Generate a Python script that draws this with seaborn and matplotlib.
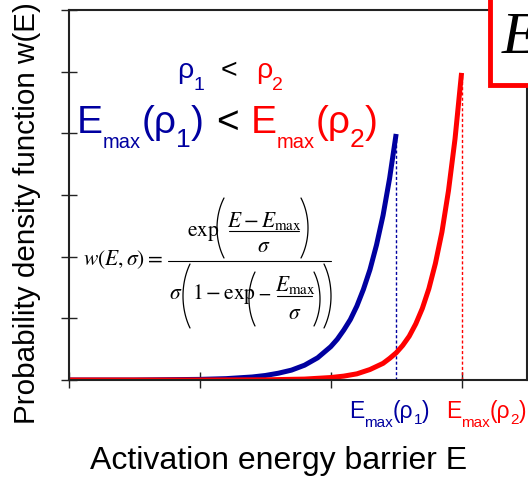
import matplotlib
matplotlib.use("Agg")
import matplotlib.pyplot as plt
from matplotlib.patches import Rectangle
from matplotlib.lines import Line2D
import seaborn as sns
import pandas as pd
import numpy as np

# ---- data ----
E_rho1 = [0.0, 0.5, 1.0, 1.2, 1.4, 1.5, 1.6, 1.7, 1.8, 1.9, 2.0, 2.05, 2.1, 2.15, 2.2,
          2.25, 2.3, 2.35, 2.4, 2.45, 2.5]
w_rho1 = [0.0, 0.0, 0.01, 0.022, 0.049, 0.073, 0.11, 0.16, 0.24, 0.36, 0.54, 0.66, 0.81,
          0.98, 1.20, 1.47, 1.79, 2.19, 2.67, 3.27, 3.99]
E_rho2 = [0.0, 0.5, 1.0, 1.5, 1.8, 2.0, 2.1, 2.2, 2.3, 2.4, 2.45, 2.5, 2.55, 2.6, 2.65,
          2.7, 2.75, 2.8, 2.85, 2.9, 2.95, 3.0]
w_rho2 = [0.0, 0.0, 0.0, 0.003, 0.015, 0.04, 0.063, 0.10, 0.17, 0.27, 0.35, 0.44, 0.56,
          0.71, 0.91, 1.16, 1.48, 1.89, 2.40, 3.07, 3.91, 4.98]
series_names = ["rho1", "rho2"]
E_max = [2.5, 3.0]
x_ticks = [0, 1, 2, 3]
y_ticks = [0, 1, 2, 3, 4, 5, 6]

BLUE = "#0000A0"
RED = "#FF0000"

df = pd.concat([
    pd.DataFrame({"E": E_rho1, "w": w_rho1, "series": series_names[0]}),
    pd.DataFrame({"E": E_rho2, "w": w_rho2, "series": series_names[1]}),
], ignore_index=True)

sns.set_style("white")
plt.rcParams["font.family"] = ["Liberation Sans", "DejaVu Sans"]
plt.rcParams["text.color"] = "black"
plt.rcParams["mathtext.fontset"] = "custom"
plt.rcParams["mathtext.rm"] = "Liberation Sans"
plt.rcParams["mathtext.it"] = "Liberation Sans:italic"
plt.rcParams["mathtext.bf"] = "Liberation Sans:bold"

W, H = 528, 483
fig = plt.figure(figsize=(W / 100, H / 100), dpi=100)
ax = fig.add_axes([69 / W, 1 - 380 / H, (527 - 69) / W, (380 - 10) / H])

sns.lineplot(data=df, x="E", y="w", hue="series", hue_order=series_names,
             palette=[BLUE, RED], linewidth=3.6, legend=False, ax=ax,
             estimator=None, sort=False)
for ln in ax.get_lines():
    ln.set_solid_joinstyle("round")
    ln.set_solid_capstyle("butt")

# dotted E_max markers
ax.plot([E_max[0], E_max[0]], [0, w_rho1[-1]], color=BLUE, lw=1.0,
        linestyle=(0, (2.2, 1.6)), zorder=1)
ax.plot([E_max[1], E_max[1]], [0, w_rho2[-1]], color=RED, lw=1.0,
        linestyle=(0, (2.2, 1.6)), zorder=1)

ax.set_xlim(0, 3.5)
ax.set_ylim(0, 6)
ax.set_xticks(x_ticks)
ax.set_yticks(y_ticks)
ax.set_xticklabels([])
ax.set_yticklabels([])
ax.tick_params(bottom=True, left=True, top=False, right=False,
               direction="inout", length=11, width=1.0, color="#222222")
for s in ax.spines.values():
    s.set_visible(True)
    s.set_color("#222222")
    s.set_linewidth(1.5)
ax.set_xlabel("")
ax.set_ylabel("")

def P(x, y):
    return (x / W, 1 - y / H)

fig.text(*P(279, 461), "Activation energy barrier E", fontsize=23,
         ha="center", va="center", color="black")
fig.text(*P(27, 213), "Probability density function w(E)", fontsize=21.3,
         ha="center", va="center", rotation=90, color="black")

renderer = fig.canvas.get_renderer()

def seq(x, y, parts):
    """parts: (text, fontsize, color, dy)"""
    for txt, fs, col, dy in parts:
        t = fig.text(*P(x, y + dy), txt, fontsize=fs, color=col,
                     ha="left", va="baseline")
        bb = t.get_window_extent(renderer=renderer)
        x += bb.width

# rho1 < rho2
seq(177, 78, [("ρ", 20.5, BLUE, 0), ("1", 14, BLUE, 12)])
seq(221, 78, [("<", 20.5, "black", 0)])
seq(256, 78, [("ρ", 20.5, RED, 0), ("2", 14, RED, 12)])
# Emax(rho1) < Emax(rho2)
seq(77, 133, [("E", 28, BLUE, 0), ("max", 14.5, BLUE, 15), ("(ρ", 28, BLUE, 0),
              ("1", 19, BLUE, 14), (")", 28, BLUE, 0)])
seq(216, 133, [("<", 28, "black", 0)])
seq(251, 133, [("E", 28, RED, 0), ("max", 14.5, RED, 15), ("(ρ", 28, RED, 0),
               ("2", 19, RED, 14), (")", 28, RED, 0)])
# bottom labels
seq(349, 418, [("E", 16.5, BLUE, 0), ("max", 11, BLUE, 9), ("(ρ", 16.5, BLUE, 0),
               ("1", 11, BLUE, 6), (")", 16.5, BLUE, 0)])
seq(446, 418, [("E", 16.5, RED, 0), ("max", 11, RED, 9), ("(ρ", 16.5, RED, 0),
               ("2", 11, RED, 6), (")", 16.5, RED, 0)])

# ---- formula, typeset piece by piece ----
FS = 15.5

def mt(x, y, s, ha="left"):
    fig.text(*P(x, y), s, fontsize=FS, ha=ha, va="baseline",
             math_fontfamily="stix", color="black")

def hbar(x0, x1, y):
    fig.add_artist(Line2D([x0 / W, x1 / W], [1 - y / H, 1 - y / H],
                          transform=fig.transFigure, color="black", lw=0.8))

def paren(x0, x1, y0, y1, left=True):
    d = x1 - x0
    h = y1 - y0
    ang = np.deg2rad(35)
    a = d / (1 - np.cos(ang))
    b = h / (2 * np.sin(ang))
    phi = np.linspace(-ang, ang, 40)
    cy = (y0 + y1) / 2
    if left:
        xs = x0 + a * (1 - np.cos(phi))
    else:
        xs = x1 - a * (1 - np.cos(phi))
    ys = cy + b * np.sin(phi)
    fig.add_artist(Line2D(xs / W, 1 - ys / H, transform=fig.transFigure,
                          color="black", lw=0.9, solid_capstyle="round"))

mt(83, 265, r"$w(E,\sigma)=$")
hbar(168, 331, 261)
# numerator
mt(187, 236, r"$\mathrm{exp}$")
paren(217, 224, 198, 258, True)
paren(301, 308, 198, 258, False)
mt(264, 227, r"$E-E_{\mathrm{max}}$", ha="center")
hbar(229, 299, 231)
mt(264, 252, r"$\sigma$", ha="center")
# denominator
mt(169, 299, r"$\sigma$")
paren(183, 190, 264, 328, True)
paren(324, 331, 264, 328, False)
mt(192, 299, r"$1-\mathrm{exp}$")
paren(249, 255, 272, 326, True)
paren(314, 320, 272, 326, False)
fig.text(*P(257, 300), "\u2212", fontsize=12, ha="left", va="baseline",
         family="DejaVu Serif", color="black")
mt(295, 291, r"$E_{\mathrm{max}}$", ha="center")
hbar(277, 312, 296)
mt(295, 319, r"$\sigma$", ha="center")

# top-right box
rect = Rectangle(P(489.5, 85), 60 / W, 100 / H, transform=fig.transFigure,
                 facecolor="white", edgecolor=RED, linewidth=3.5, zorder=10,
                 clip_on=False)
fig.add_artist(rect)
fig.text(*P(502, 53), "E", fontsize=43, family="Liberation Serif",
         style="italic", color="black", ha="left", va="baseline", zorder=11)

fig.savefig("out.png", dpi=100)
